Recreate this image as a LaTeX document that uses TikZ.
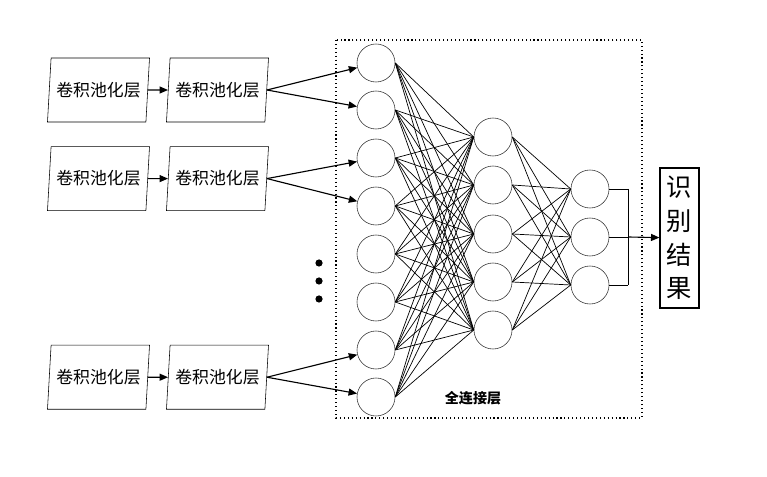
\documentclass[tikz,border=0pt]{standalone}
\usepackage{fontspec}
\setmainfont{Noto Sans CJK SC}
\usetikzlibrary{arrows.meta,positioning,shapes.geometric}

\begin{document}
\begin{tikzpicture}[
  x=0.025cm, y=-0.025cm,
  layer/.style={draw, trapezium, trapezium left angle=79, trapezium right angle=101, trapezium stretches body=true, minimum width=2.55cm, minimum height=1.6cm, inner sep=1pt, font=\fontsize{12}{14}\selectfont},
  neuron/.style={draw=black!80, circle, minimum size=0.95cm, inner sep=0pt},
  dot/.style={circle, fill=black, minimum size=0.18cm, inner sep=0pt},
  link/.style={line width=0.5pt},
  arrow/.style={-{Triangle[length=6pt,width=5pt]}, line width=0.8pt}
]
\useasboundingbox (0,0) rectangle (767,477);

% convolution / pooling rows
\node[layer] (c1a) at (98.5,90) {卷积池化层};
\node[layer, right=0.5cm of c1a] (c1b) {卷积池化层};
\node[layer, below=0.6cm of c1a] (c2a) {卷积池化层};
\node[layer, right=0.5cm of c2a] (c2b) {卷积池化层};
\node[layer, below=3.35cm of c2a] (c3a) {卷积池化层};
\node[layer, right=0.5cm of c3a] (c3b) {卷积池化层};

\draw[arrow] (c1a) -- (c1b);
\draw[arrow] (c2a) -- (c2b);
\draw[arrow] (c3a) -- (c3b);

% ellipsis
\node[dot] (d1) at (319,263) {};
\node[dot] (d2) at (319,281) {};
\node[dot] (d3) at (319,299) {};

% fully connected part
\draw[dotted, thick] (336,40) rectangle (642,418);
\node[font=\fontsize{10}{12}\selectfont\bfseries] (fc) at (473,398) {全连接层};

\foreach \i/\y in {1/63,2/110,3/158,4/206,5/254,6/302,7/350,8/397}
  \node[neuron] (in\i) at (376,\y) {};
\foreach \i/\y in {1/137,2/185,3/234,4/282,5/330}
  \node[neuron] (hid\i) at (493,\y) {};
\foreach \i/\y in {1/189,2/237,3/285}
  \node[neuron] (out\i) at (590,\y) {};

\foreach \i in {1,...,8}
  \foreach \j in {1,...,5}
    \draw[link] (in\i.east) -- (hid\j.west);
\foreach \i in {1,...,5}
  \foreach \j in {1,...,3}
    \draw[link] (hid\i.east) -- (out\j.west);

\draw[arrow] (c1b.east) -- (in1);
\draw[arrow] (c1b.east) -- (in2);
\draw[arrow] (c2b.east) -- (in3);
\draw[arrow] (c2b.east) -- (in4);
\draw[arrow] (c3b.east) -- (in7);
\draw[arrow] (c3b.east) -- (in8);

% result
\node[draw, thick, minimum width=0.975cm, minimum height=3.5cm, inner sep=1pt, align=center,
  font=\fontsize{18}{24}\selectfont] (res) at (679.5,238) {识\\别\\结\\果};
\coordinate (join) at (628,237);
\foreach \j in {1,2,3}
  \draw[link] (out\j.east) -- (out\j.east -| join);
\draw[link] (out1.east -| join) -- (out3.east -| join);
\draw[arrow] (join) -- (res);
\end{tikzpicture}
\end{document}
